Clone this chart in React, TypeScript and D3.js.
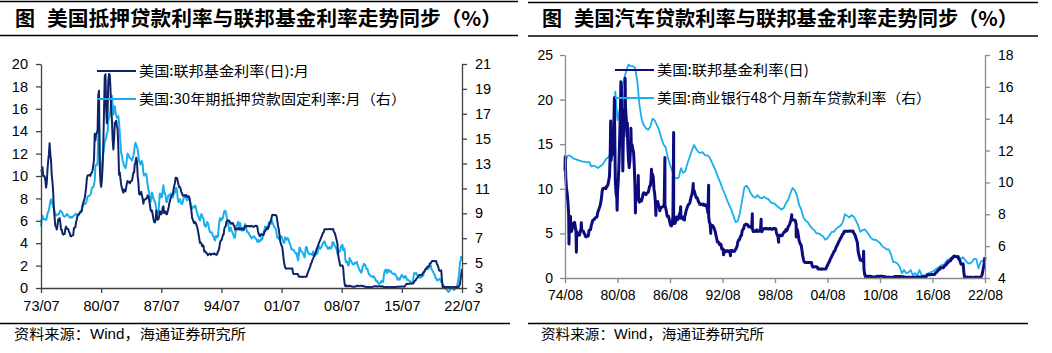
import { useEffect, useRef } from 'react';
import * as d3 from 'd3';

// ---------- data ----------
// US effective fed funds rate, monthly, from 1973/07 (left panel until 22/07, right panel until 22/08)
const fedFundsStart = [1973, 7];
const fedFunds = [
  10.40, 10.50, 10.78, 10.01, 10.03, 9.95,
  9.65, 8.97, 9.35, 10.51, 11.31, 11.93, 12.92, 12.01, 11.34, 10.06, 9.45, 8.53,
  7.13, 6.24, 5.54, 5.49, 5.22, 5.55, 6.10, 6.14, 6.24, 5.82, 5.22, 5.20,
  4.87, 4.77, 4.84, 4.82, 5.29, 5.48, 5.31, 5.29, 5.25, 5.02, 4.95, 4.65,
  4.61, 4.68, 4.69, 4.73, 5.35, 5.39, 5.42, 5.90, 6.14, 6.47, 6.51, 6.56,
  6.70, 6.78, 6.79, 6.89, 7.36, 7.60, 7.81, 8.04, 8.45, 8.96, 9.76, 10.03,
  10.07, 10.06, 10.09, 10.01, 10.24, 10.29, 10.47, 10.94, 11.43, 13.77, 13.18, 13.78,
  13.82, 14.13, 17.19, 17.61, 10.98, 9.47, 9.03, 9.61, 10.87, 12.81, 15.85, 18.90,
  19.08, 15.93, 14.70, 15.72, 18.52, 19.10, 19.04, 17.82, 15.87, 15.08, 13.31, 12.37,
  13.22, 14.78, 14.68, 14.94, 14.45, 14.15, 12.59, 10.12, 10.31, 9.71, 9.20, 8.95,
  8.68, 8.51, 8.77, 8.80, 8.63, 8.98, 9.37, 9.56, 9.45, 9.48, 9.34, 9.47,
  9.56, 9.59, 9.91, 10.29, 10.32, 11.06, 11.23, 11.64, 11.30, 9.99, 9.43, 8.38,
  8.35, 8.50, 8.58, 8.27, 7.97, 7.53, 7.88, 7.90, 7.92, 7.99, 8.05, 8.27,
  8.14, 7.86, 7.48, 6.99, 6.85, 6.92, 6.56, 6.17, 5.89, 5.85, 6.04, 6.91,
  6.43, 6.10, 6.13, 6.37, 6.85, 6.73, 6.58, 6.73, 7.22, 7.29, 6.69, 6.77,
  6.83, 6.58, 6.58, 6.87, 7.09, 7.51, 7.75, 8.01, 8.19, 8.30, 8.35, 8.76,
  9.12, 9.36, 9.85, 9.84, 9.81, 9.53, 9.24, 8.99, 9.02, 8.84, 8.55, 8.45,
  8.23, 8.24, 8.28, 8.26, 8.18, 8.29, 8.15, 8.13, 8.20, 8.11, 7.81, 7.31,
  6.91, 6.25, 6.12, 5.91, 5.78, 5.90, 5.82, 5.66, 5.45, 5.21, 4.81, 4.43,
  4.03, 4.06, 3.98, 3.73, 3.82, 3.76, 3.25, 3.30, 3.22, 3.10, 3.09, 2.92,
  3.02, 3.03, 3.07, 2.96, 3.00, 3.04, 3.06, 3.03, 3.09, 2.99, 3.02, 2.96,
  3.05, 3.25, 3.34, 3.56, 4.01, 4.25, 4.26, 4.47, 4.73, 4.76, 5.29, 5.45,
  5.53, 5.92, 5.98, 6.05, 6.01, 6.00, 5.85, 5.74, 5.80, 5.76, 5.80, 5.60,
  5.56, 5.22, 5.31, 5.22, 5.24, 5.27, 5.40, 5.22, 5.30, 5.24, 5.31, 5.29,
  5.25, 5.19, 5.39, 5.51, 5.50, 5.56, 5.52, 5.54, 5.54, 5.50, 5.52, 5.50,
  5.56, 5.51, 5.49, 5.45, 5.49, 5.56, 5.54, 5.55, 5.51, 5.07, 4.83, 4.68,
  4.63, 4.76, 4.81, 4.74, 4.74, 4.76, 4.99, 5.07, 5.22, 5.20, 5.42, 5.30,
  5.45, 5.73, 5.85, 6.02, 6.27, 6.53, 6.54, 6.50, 6.52, 6.51, 6.51, 6.40,
  5.98, 5.49, 5.31, 4.80, 4.21, 3.97, 3.77, 3.65, 3.07, 2.49, 2.09, 1.82,
  1.73, 1.74, 1.73, 1.75, 1.75, 1.75, 1.73, 1.74, 1.75, 1.75, 1.34, 1.24,
  1.24, 1.26, 1.25, 1.26, 1.26, 1.22, 1.01, 1.03, 1.01, 1.01, 1.00, 0.98,
  1.00, 1.01, 1.00, 1.00, 1.00, 1.03, 1.26, 1.43, 1.61, 1.76, 1.93, 2.16,
  2.28, 2.50, 2.63, 2.79, 3.00, 3.04, 3.26, 3.50, 3.62, 3.78, 4.00, 4.16,
  4.29, 4.49, 4.59, 4.79, 4.94, 4.99, 5.24, 5.25, 5.25, 5.25, 5.25, 5.24,
  5.25, 5.26, 5.26, 5.25, 5.25, 5.25, 5.26, 5.02, 4.94, 4.76, 4.49, 4.24,
  3.94, 2.98, 2.61, 2.28, 1.98, 2.00, 2.01, 2.00, 1.81, 0.97, 0.39, 0.16,
  0.15, 0.22, 0.18, 0.15, 0.18, 0.21, 0.16, 0.16, 0.15, 0.12, 0.12, 0.12,
  0.11, 0.13, 0.16, 0.20, 0.20, 0.18, 0.18, 0.19, 0.19, 0.19, 0.19, 0.18,
  0.17, 0.16, 0.14, 0.10, 0.09, 0.09, 0.07, 0.10, 0.08, 0.07, 0.08, 0.07,
  0.08, 0.10, 0.13, 0.14, 0.16, 0.16, 0.16, 0.13, 0.14, 0.16, 0.16, 0.16,
  0.14, 0.15, 0.14, 0.15, 0.11, 0.09, 0.09, 0.08, 0.08, 0.09, 0.08, 0.09,
  0.07, 0.07, 0.08, 0.09, 0.09, 0.10, 0.09, 0.09, 0.09, 0.09, 0.09, 0.12,
  0.11, 0.11, 0.11, 0.12, 0.12, 0.13, 0.13, 0.14, 0.14, 0.12, 0.12, 0.24,
  0.34, 0.38, 0.36, 0.37, 0.37, 0.38, 0.39, 0.40, 0.40, 0.40, 0.41, 0.54,
  0.65, 0.66, 0.79, 0.90, 0.91, 1.04, 1.15, 1.16, 1.15, 1.15, 1.16, 1.30,
  1.41, 1.42, 1.51, 1.69, 1.70, 1.82, 1.91, 1.91, 1.95, 2.19, 2.20, 2.27,
  2.40, 2.40, 2.41, 2.42, 2.39, 2.38, 2.40, 2.13, 2.04, 1.83, 1.55, 1.55,
  1.55, 1.58, 0.65, 0.05, 0.05, 0.08, 0.09, 0.10, 0.09, 0.09, 0.09, 0.09,
  0.09, 0.08, 0.07, 0.07, 0.06, 0.08, 0.10, 0.09, 0.08, 0.08, 0.08, 0.08,
  0.08, 0.08, 0.20, 0.33, 0.77, 1.21, 1.68, 2.33,
];

// daily fed funds extremes seen on the right panel: [year, month, day, value]
const fedFundsDailySpikes = [
  [1974, 8, 10, 13.6], [1975, 1, 15, 3.8], [1975, 3, 20, 6.9], [1975, 11, 20, 2.9],
  [1976, 6, 10, 6.2], [1979, 10, 20, 17.6], [1980, 3, 25, 20.2], [1980, 7, 15, 7.6],
  [1980, 12, 20, 22.0], [1981, 1, 10, 21.5], [1981, 3, 10, 12.0], [1981, 6, 15, 22.4],
  [1981, 9, 15, 17.4], [1982, 2, 10, 16.8], [1982, 8, 20, 7.3], [1982, 12, 15, 11.5],
  [1984, 6, 20, 12.2], [1984, 12, 20, 7.0], [1985, 12, 31, 13.5], [1986, 12, 31, 16.3],
  [1987, 10, 20, 8.0], [1988, 3, 30, 6.5], [1989, 3, 30, 10.6], [1990, 12, 31, 10.4],
  [1991, 3, 30, 5.0], [1992, 9, 15, 2.6], [1993, 6, 30, 2.5], [1995, 12, 29, 7.2],
  [1996, 12, 31, 6.6], [1998, 12, 31, 4.0], [2000, 6, 30, 7.1],
  [2001, 1, 2, 4.6], [2008, 9, 16, 3.0],
];

// 30y fixed mortgage rate, monthly, from 1973/07 (right axis)
const mortgageStart = [1973, 7];
const mortgage = [
  7.96, 8.53, 8.80, 8.57, 8.52, 8.54,
  8.54, 8.46, 8.60, 8.97, 9.09, 9.28, 9.59, 9.96, 10.13, 10.03, 9.72, 9.53,
  9.43, 9.10, 8.89, 8.82, 8.91, 8.89, 8.89, 8.94, 9.13, 9.22, 9.15, 9.10,
  9.02, 8.81, 8.76, 8.73, 8.76, 8.85, 8.93, 8.93, 8.82, 8.73, 8.70, 8.64,
  8.72, 8.67, 8.69, 8.75, 8.83, 8.86, 8.94, 8.94, 8.90, 8.92, 8.92, 8.96,
  9.02, 9.15, 9.20, 9.36, 9.57, 9.71, 9.74, 9.78, 9.76, 9.86, 10.11, 10.35,
  10.39, 10.41, 10.43, 10.50, 10.69, 11.04, 11.09, 11.09, 11.30, 11.64, 12.83, 12.90,
  12.88, 13.04, 15.28, 16.32, 14.26, 12.71, 12.19, 12.56, 13.20, 13.79, 14.21, 14.79,
  14.90, 15.13, 15.40, 15.58, 16.40, 16.70, 16.83, 17.29, 18.16, 18.45, 17.83, 16.92,
  17.40, 17.60, 17.16, 16.89, 16.68, 16.70, 16.82, 16.27, 15.43, 14.61, 13.83, 13.62,
  13.25, 13.04, 12.80, 12.78, 12.63, 12.87, 13.42, 13.81, 13.73, 13.54, 13.44, 13.42,
  13.37, 13.23, 13.39, 13.65, 13.94, 14.42, 14.67, 14.47, 14.35, 14.13, 13.64, 13.18,
  13.08, 12.92, 13.17, 13.20, 12.91, 12.22, 12.03, 12.19, 12.19, 12.14, 11.78, 11.26,
  10.88, 10.71, 10.08, 9.94, 10.14, 10.68, 10.51, 10.20, 10.01, 9.98, 9.70, 9.31,
  9.20, 9.08, 9.04, 9.83, 10.60, 10.54, 10.28, 10.33, 10.89, 11.26, 10.65, 10.65,
  10.43, 9.89, 9.93, 10.20, 10.46, 10.46, 10.43, 10.60, 10.48, 10.30, 10.27, 10.61,
  10.73, 10.65, 11.03, 11.05, 10.77, 10.20, 9.88, 9.99, 10.13, 9.95, 9.77, 9.74,
  9.90, 10.20, 10.27, 10.37, 10.48, 10.16, 10.04, 10.10, 10.18, 10.18, 10.01, 9.67,
  9.64, 9.37, 9.50, 9.49, 9.47, 9.62, 9.58, 9.24, 9.01, 8.86, 8.71, 8.50,
  8.43, 8.76, 8.94, 8.85, 8.67, 8.51, 8.13, 7.98, 7.92, 8.09, 8.31, 8.22,
  7.99, 7.68, 7.50, 7.47, 7.47, 7.42, 7.21, 7.11, 6.92, 6.83, 7.16, 7.17,
  7.06, 7.15, 7.68, 8.32, 8.60, 8.40, 8.61, 8.51, 8.64, 8.93, 9.17, 9.20,
  9.15, 8.83, 8.46, 8.32, 7.96, 7.57, 7.61, 7.86, 7.64, 7.48, 7.38, 7.20,
  7.03, 7.08, 7.62, 7.93, 8.07, 8.32, 8.25, 8.00, 8.23, 7.92, 7.62, 7.60,
  7.82, 7.65, 7.90, 8.14, 7.94, 7.69, 7.50, 7.48, 7.43, 7.29, 7.21, 7.10,
  6.99, 7.04, 7.13, 7.14, 7.14, 7.00, 6.95, 6.92, 6.72, 6.71, 6.87, 6.72,
  6.79, 6.81, 7.04, 6.92, 7.15, 7.55, 7.63, 7.94, 7.82, 7.85, 7.74, 7.91,
  8.21, 8.33, 8.24, 8.15, 8.52, 8.29, 8.15, 8.03, 7.91, 7.80, 7.75, 7.38,
  7.03, 7.05, 6.95, 7.08, 7.15, 7.16, 7.13, 6.95, 6.82, 6.62, 6.66, 7.07,
  7.00, 6.89, 7.01, 6.99, 6.81, 6.65, 6.49, 6.29, 6.09, 6.11, 6.07, 6.05,
  5.92, 5.84, 5.75, 5.81, 5.48, 5.23, 5.63, 6.26, 6.15, 5.95, 5.93, 5.88,
  5.74, 5.64, 5.45, 5.83, 6.27, 6.29, 6.06, 5.87, 5.75, 5.72, 5.73, 5.75,
  5.71, 5.63, 5.93, 5.86, 5.72, 5.58, 5.70, 5.82, 5.77, 6.07, 6.33, 6.27,
  6.15, 6.25, 6.32, 6.51, 6.60, 6.68, 6.76, 6.52, 6.40, 6.36, 6.24, 6.14,
  6.22, 6.29, 6.16, 6.18, 6.26, 6.66, 6.70, 6.57, 6.38, 6.38, 6.21, 6.10,
  5.76, 5.92, 5.97, 5.92, 6.04, 6.32, 6.43, 6.48, 6.04, 6.20, 6.09, 5.29,
  5.06, 5.13, 5.00, 4.81, 4.86, 5.42, 5.22, 5.19, 5.06, 4.95, 4.88, 4.93,
  5.03, 4.99, 4.97, 5.10, 4.89, 4.74, 4.56, 4.43, 4.35, 4.23, 4.30, 4.71,
  4.76, 4.95, 4.84, 4.84, 4.64, 4.51, 4.55, 4.27, 4.11, 4.07, 3.99, 3.96,
  3.92, 3.89, 3.95, 3.91, 3.80, 3.68, 3.55, 3.60, 3.50, 3.38, 3.35, 3.35,
  3.41, 3.53, 3.57, 3.45, 3.54, 4.07, 4.37, 4.46, 4.49, 4.19, 4.26, 4.46,
  4.43, 4.30, 4.34, 4.34, 4.19, 4.16, 4.13, 4.12, 4.16, 4.04, 4.00, 3.86,
  3.67, 3.71, 3.77, 3.67, 3.84, 3.98, 4.05, 3.91, 3.89, 3.80, 3.94, 3.96,
  3.87, 3.66, 3.69, 3.61, 3.60, 3.57, 3.44, 3.44, 3.46, 3.47, 3.77, 4.20,
  4.15, 4.17, 4.20, 4.05, 4.01, 3.90, 3.97, 3.88, 3.81, 3.90, 3.92, 3.95,
  4.03, 4.33, 4.44, 4.47, 4.59, 4.57, 4.53, 4.55, 4.63, 4.83, 4.87, 4.64,
  4.46, 4.37, 4.27, 4.14, 4.07, 3.80, 3.77, 3.62, 3.61, 3.69, 3.70, 3.72,
  3.62, 3.47, 3.45, 3.31, 3.23, 3.16, 3.02, 2.94, 2.89, 2.83, 2.77, 2.68,
  2.74, 2.81, 3.08, 3.06, 2.96, 2.98, 2.87, 2.84, 2.90, 3.07, 3.07, 3.10,
  3.45, 3.76, 4.17, 4.98, 5.23, 5.52, 5.41,
];

// 48-month new car loan rate at commercial banks, quarterly from 1974/08 (right axis)
const carLoanStart = [1974, 8];
const carLoan = [
  11.10, 11.65,
  11.70, 11.60, 11.50, 11.45, 11.40, 11.35, 11.30, 11.30,
  11.25, 11.30, 11.00, 11.05, 11.00, 10.90, 11.00, 11.10,
  11.30, 11.50, 11.60, 12.00, 12.30, 15.70, 13.90, 14.60,
  15.90, 16.50, 17.00, 17.40, 17.30, 17.30, 17.20, 16.40,
  14.90, 14.00, 13.60, 13.40, 13.30, 13.50, 14.00, 13.90,
  13.60, 13.30, 12.80, 12.40, 12.20, 11.60, 11.10, 10.70,
  10.30, 10.25, 10.30, 10.90, 10.60, 10.70, 11.20, 11.60,
  12.00, 12.35, 12.10, 11.90, 11.85, 11.90, 11.70, 11.70,
  11.60, 11.30, 11.00, 10.70, 10.30, 10.00, 9.60, 9.30,
  8.90, 8.60, 8.30, 7.90, 7.50, 7.60, 8.10, 8.90,
  9.70, 9.80, 9.60, 9.30, 9.10, 9.05, 9.20, 9.05,
  9.00, 9.10, 9.00, 8.95, 8.75, 8.70, 8.65, 8.50,
  8.40, 8.30, 8.40, 8.70, 8.90, 9.30, 9.65, 9.50,
  9.20, 8.60, 8.30, 7.80, 7.60, 7.50, 7.30, 7.10,
  7.00, 6.80, 6.80, 6.70, 6.60, 6.40, 6.50, 6.70,
  6.90, 6.90, 7.10, 7.20, 7.30, 7.50, 8.00, 7.90,
  7.80, 7.95, 7.85, 7.60, 7.30, 6.90, 7.00, 7.05,
  6.90, 6.70, 6.50, 6.40, 6.40, 6.30, 6.20, 6.00,
  5.90, 5.80, 5.80, 5.50, 5.00, 5.00, 4.90, 4.70,
  4.30, 4.50, 4.30, 4.35, 4.50, 4.20, 4.30, 4.15,
  4.50, 4.20, 4.15, 4.20, 4.30, 4.35, 4.40, 4.50,
  4.60, 4.70, 4.80, 4.80, 5.00, 5.15, 5.20, 5.35,
  5.45, 5.30, 5.35, 5.20, 5.30, 5.10, 4.95, 4.90,
  5.00, 5.20, 5.20, 4.60, 5.00, 5.10, 5.30,
];

const leftYTicks = [0, 2, 4, 6, 8, 10, 12, 14, 16, 18, 20];
const leftY2Ticks = [3, 5, 7, 9, 11, 13, 15, 17, 19, 21];
const leftXLabels = ['73/07', '80/07', '87/07', '94/07', '01/07', '08/07', '15/07', '22/07'];
const rightYTicks = [0, 5, 10, 15, 20, 25];
const rightY2Ticks = [4, 6, 8, 10, 12, 14, 16, 18];
const rightXLabels = ['74/08', '80/08', '86/08', '92/08', '98/08', '04/08', '10/08', '16/08', '22/08'];

const monthly = (start, values, step = 1) =>
  values.map((v, i) => ({ date: new Date(start[0], start[1] - 1 + i * step, 1), value: v }));

const CJK = '"Noto Sans CJK SC", "Noto Sans", sans-serif';
const LATIN = '"Liberation Sans", Arial, sans-serif';

function drawPanel(svg, cfg) {
  const g = svg.append('g');
  const parseLabel = d3.timeParse('%y/%m');
  const tickDates = cfg.xLabels.map(parseLabel);

  const x = d3.scaleTime().domain(cfg.xDomain).range(cfg.xRange);
  const y = d3.scaleLinear().domain(cfg.yDomain).range(cfg.yRange);
  const y2 = d3.scaleLinear().domain(cfg.y2Domain).range(cfg.yRange);

  // frame lines and title
  const line = (x1, x2, yy) => g.append('line')
    .attr('x1', x1).attr('x2', x2).attr('y1', yy).attr('y2', yy)
    .attr('stroke', '#000').attr('stroke-width', 1.6);
  line(cfg.frame[0], cfg.frame[1], cfg.topLine);
  line(cfg.frame[0], cfg.frame[1], cfg.titleLine);
  line(cfg.frame[0], cfg.footFrame, 323.5);

  g.append('text').attr('x', cfg.titleX).attr('y', 26)
    .style('font-family', CJK).style('font-size', '20px').style('font-weight', 700)
    .text('图');
  g.append('text').attr('x', cfg.titleX + 32).attr('y', 26)
    .attr('textLength', cfg.titleLen).attr('lengthAdjust', 'spacingAndGlyphs')
    .style('font-family', CJK).style('font-size', '20px').style('font-weight', 700)
    .text(cfg.title);

  const foot = g.append('text').attr('x', cfg.titleX - 1).attr('y', 339)
    .attr('textLength', cfg.footLen).attr('lengthAdjust', 'spacingAndGlyphs')
    .style('font-family', CJK).style('font-size', '14px');
  foot.append('tspan').text('资料来源：');
  foot.append('tspan').style('font-family', LATIN).text('Wind');
  foot.append('tspan').text('，海通证券研究所');

  // series
  const path = d3.line().x(d => x(d.date));
  g.append('path').datum(cfg.lightSeries)
    .attr('fill', 'none').attr('stroke', '#1aaeee').attr('stroke-width', cfg.lightWidth)
    .attr('stroke-linejoin', 'round')
    .attr('d', path.y(d => y2(d.value)));
  g.append('path').datum(cfg.darkSeries)
    .attr('fill', 'none').attr('stroke', cfg.darkColor).attr('stroke-width', cfg.darkWidth)
    .attr('stroke-linejoin', 'round')
    .attr('d', path.y(d => y(d.value)));

  // axes
  const styleAxis = sel => {
    sel.select('.domain').attr('stroke', cfg.axisColor).attr('stroke-width', 1.3);
    sel.selectAll('.tick line').attr('stroke', cfg.axisColor).attr('stroke-width', 1.3);
    sel.selectAll('text').attr('fill', '#000')
      .style('font-family', LATIN).style('font-size', cfg.fontSize);
  };
  g.append('g').attr('transform', `translate(0,${cfg.yRange[0]})`)
    .call(d3.axisBottom(x).tickValues(tickDates).tickFormat((d, i) => cfg.xLabels[i])
      .tickSize(5).tickSizeOuter(0).tickPadding(cfg.xPad))
    .call(styleAxis);
  g.append('g').attr('transform', `translate(${cfg.xRange[0]},0)`)
    .call(d3.axisLeft(y).tickValues(cfg.yTicks).tickSize(5).tickSizeOuter(0).tickPadding(cfg.yPad))
    .call(styleAxis);
  g.append('g').attr('transform', `translate(${cfg.xRange[1]},0)`)
    .call(d3.axisRight(y2).tickValues(cfg.y2Ticks).tickSize(5).tickSizeOuter(0).tickPadding(8))
    .call(styleAxis);

  // legend
  cfg.legend.forEach((item, i) => {
    const ly = cfg.legendY + i * 28;
    g.append('line').attr('x1', cfg.legendX).attr('x2', cfg.legendX + 39)
      .attr('y1', ly).attr('y2', ly)
      .attr('stroke', i === 0 ? cfg.darkColor : '#1aaeee').attr('stroke-width', 2.2);
    g.append('text').attr('x', cfg.legendX + 42).attr('y', ly + 5)
      .attr('textLength', item.len).attr('lengthAdjust', 'spacingAndGlyphs')
      .style('font-family', CJK).style('font-size', '14px')
      .text(item.label);
  });
}

export default function App() {
  const svgRef = useRef(null);

  useEffect(() => {
    const svg = d3.select(svgRef.current);
    svg.selectAll('*').remove();

    const fed = monthly(fedFundsStart, fedFunds);
    const mort = monthly(mortgageStart, mortgage);
    const car = monthly(carLoanStart, carLoan, 3);
    const spikes = fedFundsDailySpikes.map(([yy, m, d, v]) => ({ date: new Date(yy, m - 1, d), value: v }));

    const leftStart = new Date(1973, 6, 1);
    const leftEnd = new Date(2022, 6, 1);
    drawPanel(svg, {
      frame: [0, 518], footFrame: 510, topLine: 1.5, titleLine: 35.5,
      titleX: 15, titleLen: 455, footLen: 232,
      title: '美国抵押贷款利率与联邦基金利率走势同步（%）',
      xDomain: [leftStart, leftEnd], xRange: [41, 462],
      yDomain: [0, 20], y2Domain: [3, 21], yRange: [288, 64],
      yTicks: leftYTicks, y2Ticks: leftY2Ticks, xLabels: leftXLabels,
      xPad: 8, yPad: 8, fontSize: '14.5px', axisColor: '#404040',
      darkColor: '#0f2468', darkWidth: 2, lightWidth: 2,
      darkSeries: fed.filter(d => d.date <= leftEnd),
      lightSeries: mort,
      legendX: 97, legendY: 71,
      legend: [
        { label: '美国:联邦基金利率(日):月', len: 170 },
        { label: '美国:30年期抵押贷款固定利率:月（右）', len: 267 },
      ],
    });

    const rightStart = new Date(1974, 7, 1);
    const rightFed = fed.filter(d => d.date >= rightStart).concat(spikes)
      .sort((a, b) => a.date - b.date);
    drawPanel(svg, {
      frame: [528, 1038], footFrame: 1028, topLine: 2.5, titleLine: 36,
      titleX: 542, titleLen: 444, footLen: 223,
      title: '美国汽车贷款利率与联邦基金利率走势同步（%）',
      xDomain: [rightStart, new Date(2022, 7, 1)], xRange: [565, 985],
      yDomain: [0, 25], y2Domain: [4, 18], yRange: [278, 55],
      yTicks: rightYTicks, y2Ticks: rightY2Ticks, xLabels: rightXLabels,
      xPad: 7, yPad: 7, fontSize: '14px', axisColor: '#8a8a8a',
      darkColor: '#0c0c7e', darkWidth: 3, lightWidth: 1.8,
      darkSeries: rightFed,
      lightSeries: car,
      legendX: 615, legendY: 70,
      legend: [
        { label: '美国:联邦基金利率(日)', len: 152 },
        { label: '美国:商业银行48个月新车贷款利率（右）', len: 274 },
      ],
    });
  }, []);

  return (
    <svg ref={svgRef} width={1052} height={353}
      style={{ position: 'absolute', left: 0, top: 0, background: '#fff' }} />
  );
}
